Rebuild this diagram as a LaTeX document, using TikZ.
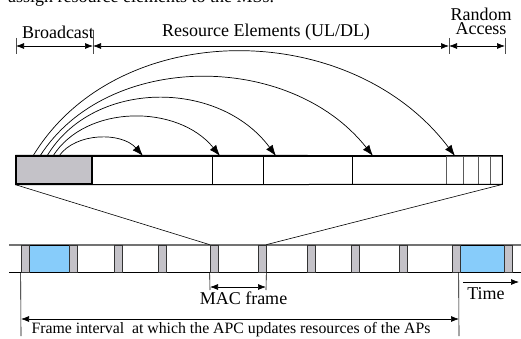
\documentclass[tikz,border=0pt]{standalone}
\usepackage{fontspec}
\setmainfont{Liberation Serif}
\usetikzlibrary{arrows.meta,calc}
\definecolor{slotgray}{RGB}{196,194,200}
\definecolor{bluefill}{RGB}{135,204,250}
\definecolor{edgegray}{RGB}{90,90,90}
\begin{document}
\begin{tikzpicture}[x=1pt,y=-1pt,
  lbl/.style={font=\fontsize{18}{19}\selectfont,inner sep=0pt},
  seg/.style={draw=black,line width=0.8pt,minimum height=28pt,inner sep=0pt,fill=white},
  segra/.style={draw=edgegray,line width=0.8pt,minimum height=28pt,inner sep=0pt,fill=white},
  slot/.style={draw=black!80,fill=slotgray,line width=0.7pt,minimum width=8pt,minimum height=28pt,inner sep=0pt},
  blue/.style={fill=bluefill,draw=black,line width=0.7pt,minimum height=28pt,inner sep=0pt},
  arc/.style={line width=0.7pt,-{Latex[length=11pt,width=8pt]}},
  dim/.style={line width=0.7pt,{Latex[length=8pt,width=6pt]}-{Latex[length=8pt,width=6pt]}},
  tick/.style={line width=0.7pt,draw=black!70},
  thin/.style={line width=0.6pt}]
\useasboundingbox (0,0) rectangle (521,339);

% partially visible text at the top
\node[lbl,anchor=base west] (top) at (8,3) {assign resource elements to the MSs.};

% top dimension labels
\node[lbl] (lbc) at (58,32) {Broadcast};
\node[lbl] (lre) at (266,32) {Resource Elements (UL/DL)};
\node[lbl,anchor=base] (lra1) at (481,20.5) {Random};
\node[lbl,anchor=base] (lra2) at (481,35) {Access};

% ticks
\coordinate (t0a) at (16,38);  \coordinate (t0b) at (16,54);
\coordinate (t1a) at (93,30);  \coordinate (t1b) at (93,54);
\coordinate (t2a) at (449,38); \coordinate (t2b) at (449,54);
\coordinate (t3a) at (505,38); \coordinate (t3b) at (505,54);
\draw[tick] (t0a) -- (t0b);
\draw[tick] (t1a) -- (t1b);
\draw[tick] (t2a) -- (t2b);
\draw[tick] (t3a) -- (t3b);
\coordinate (d0) at (16,46);
\coordinate (d1) at (93,46);
\coordinate (d2) at (449,46);
\coordinate (d3) at (505,46);
\draw[dim] (d0) -- (d1);
\draw[dim] (d1) -- (d2);
\draw[dim] (d2) -- (d3);

% upper bar
\node[seg,minimum width=120pt] (s1) at (152,170) {};
\node[seg,minimum width=51pt] (s2) at (237.5,170) {};
\node[seg,minimum width=89pt] (s3) at (307.5,170) {};
\node[seg,minimum width=94pt] (s4) at (399,170) {};
\node[segra,minimum width=17pt] (r1) at (454.5,170) {};
\node[segra,minimum width=15pt] (r2) at (470.5,170) {};
\node[segra,minimum width=12pt] (r3) at (484,170) {};
\node[segra,minimum width=12pt] (r4) at (496,170) {};
\node[draw=black,line width=1.3pt,fill=slotgray,minimum width=76pt,minimum height=28pt,inner sep=0pt] (bc) at (54,170) {};
\draw[line width=1pt] (bc.north west) -- (r4.north east) -- (r4.south east) -- (bc.south west);

% arcs
\coordinate (a1s) at (59,156); \coordinate (a1e) at (143,156);
\coordinate (a2s) at (53,156); \coordinate (a2e) at (220,156);
\coordinate (a3s) at (47,156); \coordinate (a3e) at (276,156);
\coordinate (a4s) at (40,156); \coordinate (a4e) at (373,156);
\coordinate (a5s) at (33,156); \coordinate (a5e) at (455,156);
\draw[arc] (a1s) .. controls (76,132) and (122,132) .. (a1e);
\draw[arc] (a2s) .. controls (86,104) and (178,104) .. (a2e);
\draw[arc] (a3s) .. controls (93,79) and (219,79) .. (a3e);
\draw[arc] (a4s) .. controls (107,51) and (290,51) .. (a4e);
\draw[arc] (a5s) .. controls (117,17) and (350,17) .. (a5e);

% lower strip
\coordinate (hl1) at (9,245); \coordinate (hr1) at (521,245);
\coordinate (hl2) at (9,272); \coordinate (hr2) at (521,272);
\draw[line width=1.1pt,draw=black!55] (hl1) -- (hr1);
\draw[thin,draw=black] (hl2) -- (hr2);
\node[blue,minimum width=40pt,minimum height=27pt] (b1) at (49,258.5) {};
\node[blue,minimum width=45pt,minimum height=27pt] (b2) at (481.5,258.5) {};
\foreach \x/\n in {25/1,73/2,118/3,162/4,214/5,262/6,311/7,355/8,403/9,456/10,508/11}
  \node[slot,minimum height=27pt] (q\n) at (\x,258.5) {};

% projection lines
\draw[thin] (bc.south west) -- (q5.north west);
\draw[thin] (r4.south east) -- (q6.north east);

% MAC frame
\coordinate (m1) at (210,290); \coordinate (m2) at (266,290);
\draw[thin] (q5.south west) -- (m1);
\draw[thin] (q6.south east) -- (m2);
\coordinate (ma) at (210,287); \coordinate (mb) at (266,287);
\draw[dim] (ma) -- (mb);
\node[lbl] (lmac) at (243.5,298) {MAC frame};

% Time
\coordinate (ta) at (463,282); \coordinate (tb) at (519,282);
\draw[line width=0.7pt,-{Latex[length=8pt,width=6pt]}] (ta) -- (tb);
\node[lbl] (ltime) at (486,294) {Time};

% frame interval
\coordinate (f1) at (21,336); \coordinate (f2) at (459,336);
\draw[thin] (q1.south west) -- (f1);
\draw[thin] (b2.south west) -- (f2);
\coordinate (fa) at (21,319); \coordinate (fb) at (459,319);
\draw[dim] (fa) -- (fb);
\node[inner sep=0pt,font=\fontsize{15.8}{16}\selectfont] (lfi) at (231,330) {Frame interval\ \ at which the APC updates resources of the APs};
\end{tikzpicture}
\end{document}
